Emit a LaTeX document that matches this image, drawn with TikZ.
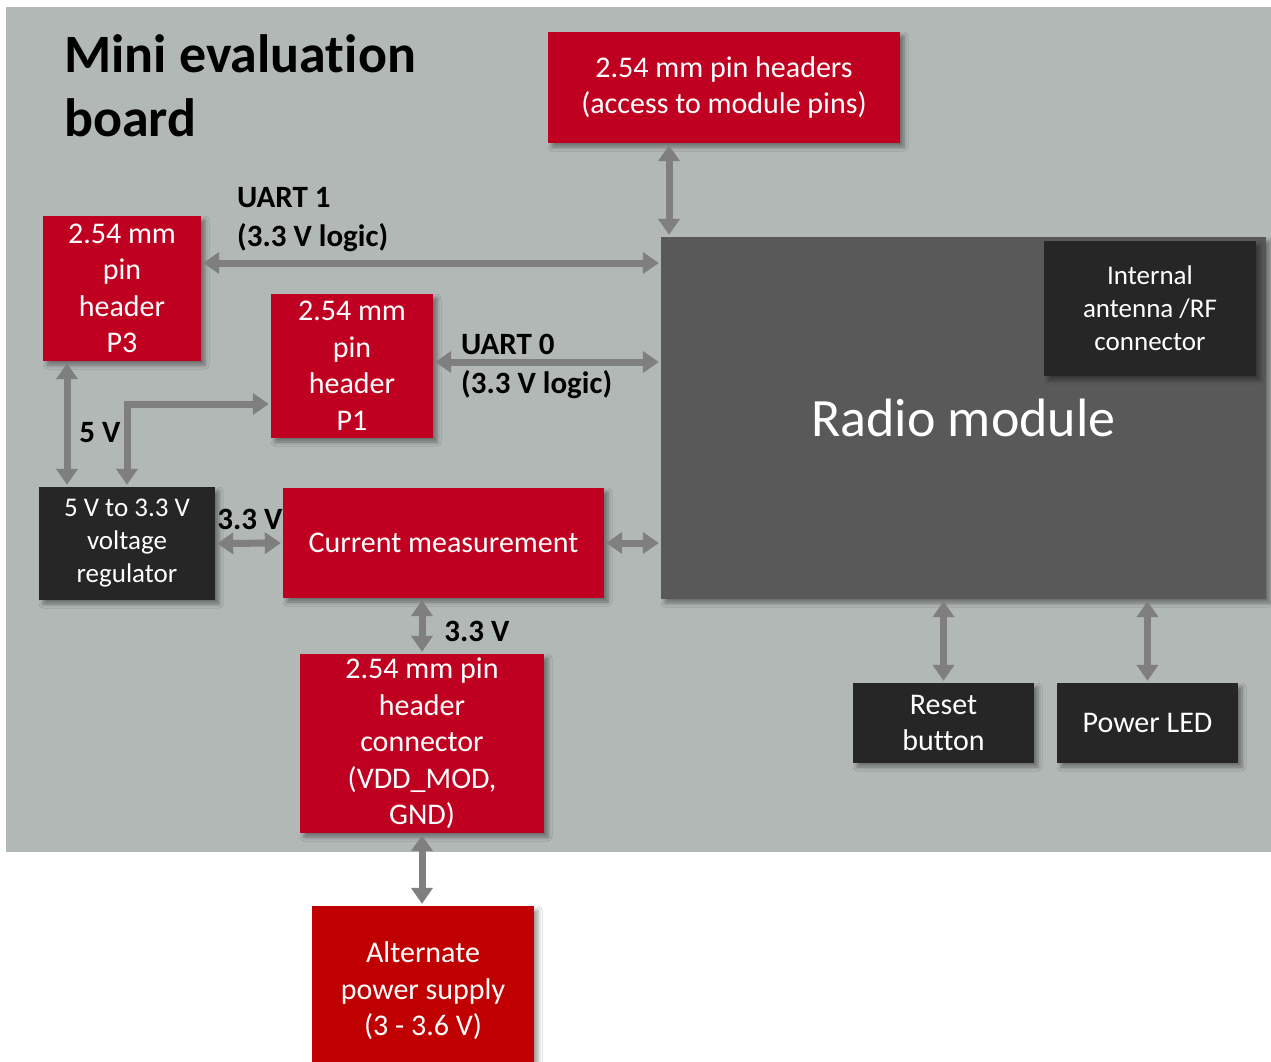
\documentclass[tikz,border=0pt]{standalone}
\usepackage{fontspec}
\setmainfont{Carlito}[Ligatures=NoCommon]
\usetikzlibrary{arrows.meta,shadows.blur}

\definecolor{boardgray}{RGB}{178,184,182}
\definecolor{boxred}{RGB}{192,0,32}
\definecolor{altred}{RGB}{192,0,0}
\definecolor{boxdark}{RGB}{38,38,38}
\definecolor{radiogray}{RGB}{89,89,89}
\definecolor{arrowgray}{RGB}{127,127,127}

\tikzset{
  blk/.style={rectangle, inner sep=0pt, align=center, text=white,
    font=\fontsize{30}{36.5}\selectfont,
    blur shadow={shadow xshift=4pt, shadow yshift=-4pt, shadow blur radius=4pt}},
  redblk/.style={blk, fill=boxred},
  darkblk/.style={blk, fill=boxdark},
  lbl/.style={font=\bfseries\fontsize{31}{39}\selectfont, align=left, inner sep=0pt},
  dbl/.style={{Triangle[width=21pt,length=16pt]}-{Triangle[width=21pt,length=16pt]},
    line width=7pt, draw=arrowgray, shorten <=2pt, shorten >=2pt},
}

\begin{document}
\begin{tikzpicture}[x=1pt,y=-1pt]
  % Canvas and board
  \clip (0,0) rectangle (1271,1062);
  \fill[white] (0,0) rectangle (1271,1062);
  \fill[boardgray] (6,7) rectangle (1271,852);
  \node[lbl, anchor=north west, font=\bfseries\fontsize{54}{64}\selectfont] (title) at (64,34) {Mini evaluation\\board};

  % Radio module
  \node[blk, fill=radiogray, minimum width=605pt, minimum height=362pt, font=\fontsize{54}{60}\selectfont] (radio) at (963.5,418) {Radio module};
  \node[darkblk, minimum width=212pt, minimum height=135pt, font=\fontsize{27}{33}\selectfont] (ant) at (1150,308.5) {Internal\\antenna /RF\\connector};

  % Pin headers
  \node[redblk, minimum width=352pt, minimum height=111pt] (hdrtop) at (724,87.5) {2.54 mm pin headers\\(access to module pins)};
  \node[redblk, minimum width=158pt, minimum height=145pt] (p3) at (122,288.5) {2.54 mm\\pin\\header\\P3};
  \node[redblk, minimum width=162pt, minimum height=144pt] (p1) at (352,366) {2.54 mm\\pin\\header\\P1};

  % Power path
  \node[darkblk, minimum width=176pt, minimum height=113pt, font=\fontsize{27}{33}\selectfont] (reg) at (127,543.5) {5 V to 3.3 V\\voltage\\regulator};
  \node[redblk, minimum width=321pt, minimum height=110pt] (curr) at (443.5,543) {Current measurement};
  \node[redblk, minimum width=244pt, minimum height=179pt] (conn) at (422,743.5) {2.54 mm pin\\header\\connector\\(VDD\_MOD,\\GND)};
  \node[redblk, fill=altred, minimum width=222pt, minimum height=170pt] (alt) at (423,991) {Alternate\\power supply\\(3 - 3.6 V)};

  % Peripherals
  \node[darkblk, minimum width=181pt, minimum height=80pt] (reset) at (943.5,723) {Reset\\button};
  \node[darkblk, minimum width=181pt, minimum height=80pt] (led) at (1147.5,723) {Power LED};

  % Connectors
  \draw[dbl] ([xshift=-55pt]hdrtop.south) -- ([xshift=-55pt]hdrtop.south |- radio.north);
  \draw[dbl] ([yshift=25.5pt]p3.east) -- ([yshift=25.5pt]p3.east -| radio.west);
  \draw[dbl] ([yshift=4pt]p1.east) -- ([yshift=4pt]p1.east -| radio.west);
  \draw[dbl] ([xshift=-55pt]p3.south) -- ([xshift=-55pt]p3.south |- reg.north);
  \draw[dbl] (reg.north) |- ([yshift=-38pt]p1.west);
  \draw[dbl] (reg.east) -- (curr.west);
  \draw[dbl] (curr.east) -- (curr.east -| radio.west);
  \draw[dbl] (conn.north |- curr.south) -- (conn.north);
  \draw[dbl] (conn.south) -- (conn.south |- alt.north);
  \draw[dbl] (reset.north |- radio.south) -- (reset.north);
  \draw[dbl] (led.north |- radio.south) -- (led.north);

  % Labels
  \node[lbl, anchor=west] (uart1) at (237,220) {UART 1\\(3.3 V logic)};
  \node[lbl, anchor=west] (uart0) at (461,366) {UART 0\\(3.3 V logic)};
  \node[lbl] (v5) at (100,433) {5 V};
  \node[lbl] (v33a) at (250,519) {3.3 V};
  \node[lbl] (v33b) at (477,631) {3.3 V};
\end{tikzpicture}
\end{document}
